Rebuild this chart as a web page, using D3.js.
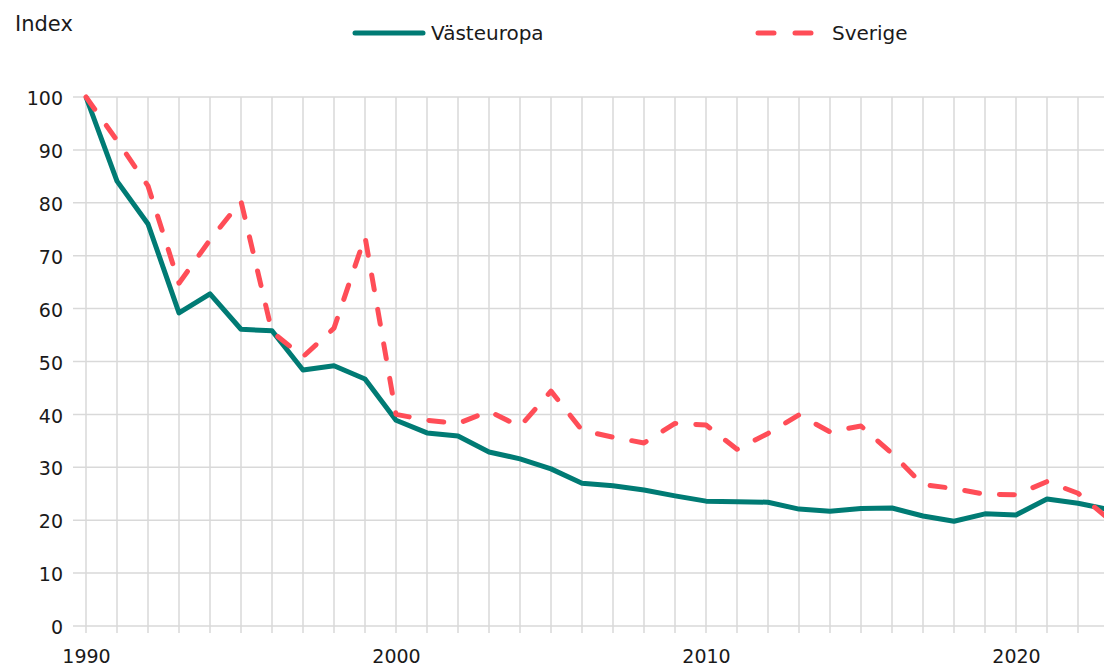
<!DOCTYPE html>
<html>
<head>
<meta charset="utf-8">
<script src="https://cdn.jsdelivr.net/npm/d3@7"></script>
<style>
  body { margin: 0; background: #fff; }
  svg { display: block; font-family: "DejaVu Sans", "Noto Sans", sans-serif; }
  .tick text { fill: #1a1a1a; font-size: 19px; }
</style>
</head>
<body>
<script>
// years on the x axis
var years = d3.range(1990, 2024);

// index values, 1990 = 100
var vasteuropa = [100, 84.1, 76.0, 59.2, 62.8, 56.1, 55.8, 48.4, 49.2, 46.7,
  38.9, 36.5, 35.9, 32.9, 31.6, 29.7, 27.0, 26.5, 25.7, 24.6,
  23.6, 23.5, 23.4, 22.1, 21.7, 22.2, 22.3, 20.8, 19.8, 21.2,
  21.0, 24.0, 23.2, 22.0];
var sverige = [100, 91.8, 83.2, 64.8, 73.0, 80.3, 55.6, 50.9, 56.3, 73.6,
  40.0, 38.9, 38.3, 40.6, 37.7, 44.4, 37.0, 35.7, 34.6, 38.3,
  38.0, 33.4, 36.4, 39.9, 36.7, 37.8, 32.6, 26.7, 26.0, 24.9,
  24.8, 27.3, 25.1, 20.2];

var yTicks = [0, 10, 20, 30, 40, 50, 60, 70, 80, 90, 100];
var xLabels = [1990, 2000, 2010, 2020];

var width = 1104, height = 667;
var teal = "#007b74", red = "#ff4d57";

var svg = d3.select("body").append("svg")
  .attr("width", width)
  .attr("height", height);

var x = d3.scaleLinear().domain([1990, 2023]).range([86, 1109]);
var y = d3.scaleLinear().domain([0, 100]).range([626, 97]);

// horizontal grid
svg.append("g")
  .selectAll("line")
  .data(yTicks)
  .join("line")
  .attr("x1", 73).attr("x2", width)
  .attr("y1", d => y(d)).attr("y2", d => y(d))
  .attr("stroke", "#d9d9d9").attr("stroke-width", 1.5);

// vertical grid, one per year
svg.append("g")
  .selectAll("line")
  .data(years)
  .join("line")
  .attr("x1", d => x(d)).attr("x2", d => x(d))
  .attr("y1", y(100)).attr("y2", y(0) + 7)
  .attr("stroke", "#d9d9d9").attr("stroke-width", 1.5);

// y axis labels
svg.append("g")
  .attr("transform", "translate(73,0)")
  .call(d3.axisLeft(y).tickValues(yTicks).tickSize(0).tickPadding(10))
  .call(g => g.select(".domain").remove())
  .selectAll("text").attr("font-family", "'DejaVu Sans', sans-serif").attr("dy", "0.4em");

// x axis labels
svg.append("g")
  .attr("transform", "translate(0," + (y(0) + 7) + ")")
  .call(d3.axisBottom(x).tickValues(xLabels).tickFormat(d3.format("d")).tickSize(0).tickPadding(17))
  .call(g => g.select(".domain").remove())
  .selectAll("text").attr("font-family", "'DejaVu Sans', sans-serif");

var line = d3.line()
  .x((d, i) => x(years[i]))
  .y(d => y(d));

svg.append("path")
  .datum(vasteuropa)
  .attr("fill", "none")
  .attr("stroke", teal)
  .attr("stroke-width", 5)
  .attr("stroke-linejoin", "round")
  .attr("d", line);

svg.append("path")
  .datum(sverige)
  .attr("fill", "none")
  .attr("stroke", red)
  .attr("stroke-width", 5)
  .attr("stroke-linecap", "round")
  .attr("stroke-linejoin", "round")
  .attr("stroke-dasharray", "15,20")
  .attr("d", line);

// axis title
svg.append("text")
  .attr("x", 15).attr("y", 31)
  .attr("font-size", 21).attr("fill", "#1a1a1a")
  .text("Index");

// legend
var legend = svg.append("g");
legend.append("line")
  .attr("x1", 355).attr("x2", 423).attr("y1", 33).attr("y2", 33)
  .attr("stroke", teal).attr("stroke-width", 5).attr("stroke-linecap", "round");
legend.append("text")
  .attr("x", 431).attr("y", 40)
  .attr("font-size", 20).attr("fill", "#1a1a1a")
  .text("Västeuropa");
legend.append("line")
  .attr("x1", 758).attr("x2", 811).attr("y1", 33).attr("y2", 33)
  .attr("stroke", red).attr("stroke-width", 5).attr("stroke-linecap", "round")
  .attr("stroke-dasharray", "16,21");
legend.append("text")
  .attr("x", 832).attr("y", 40)
  .attr("font-size", 20).attr("fill", "#1a1a1a")
  .text("Sverige");
</script>
</body>
</html>
